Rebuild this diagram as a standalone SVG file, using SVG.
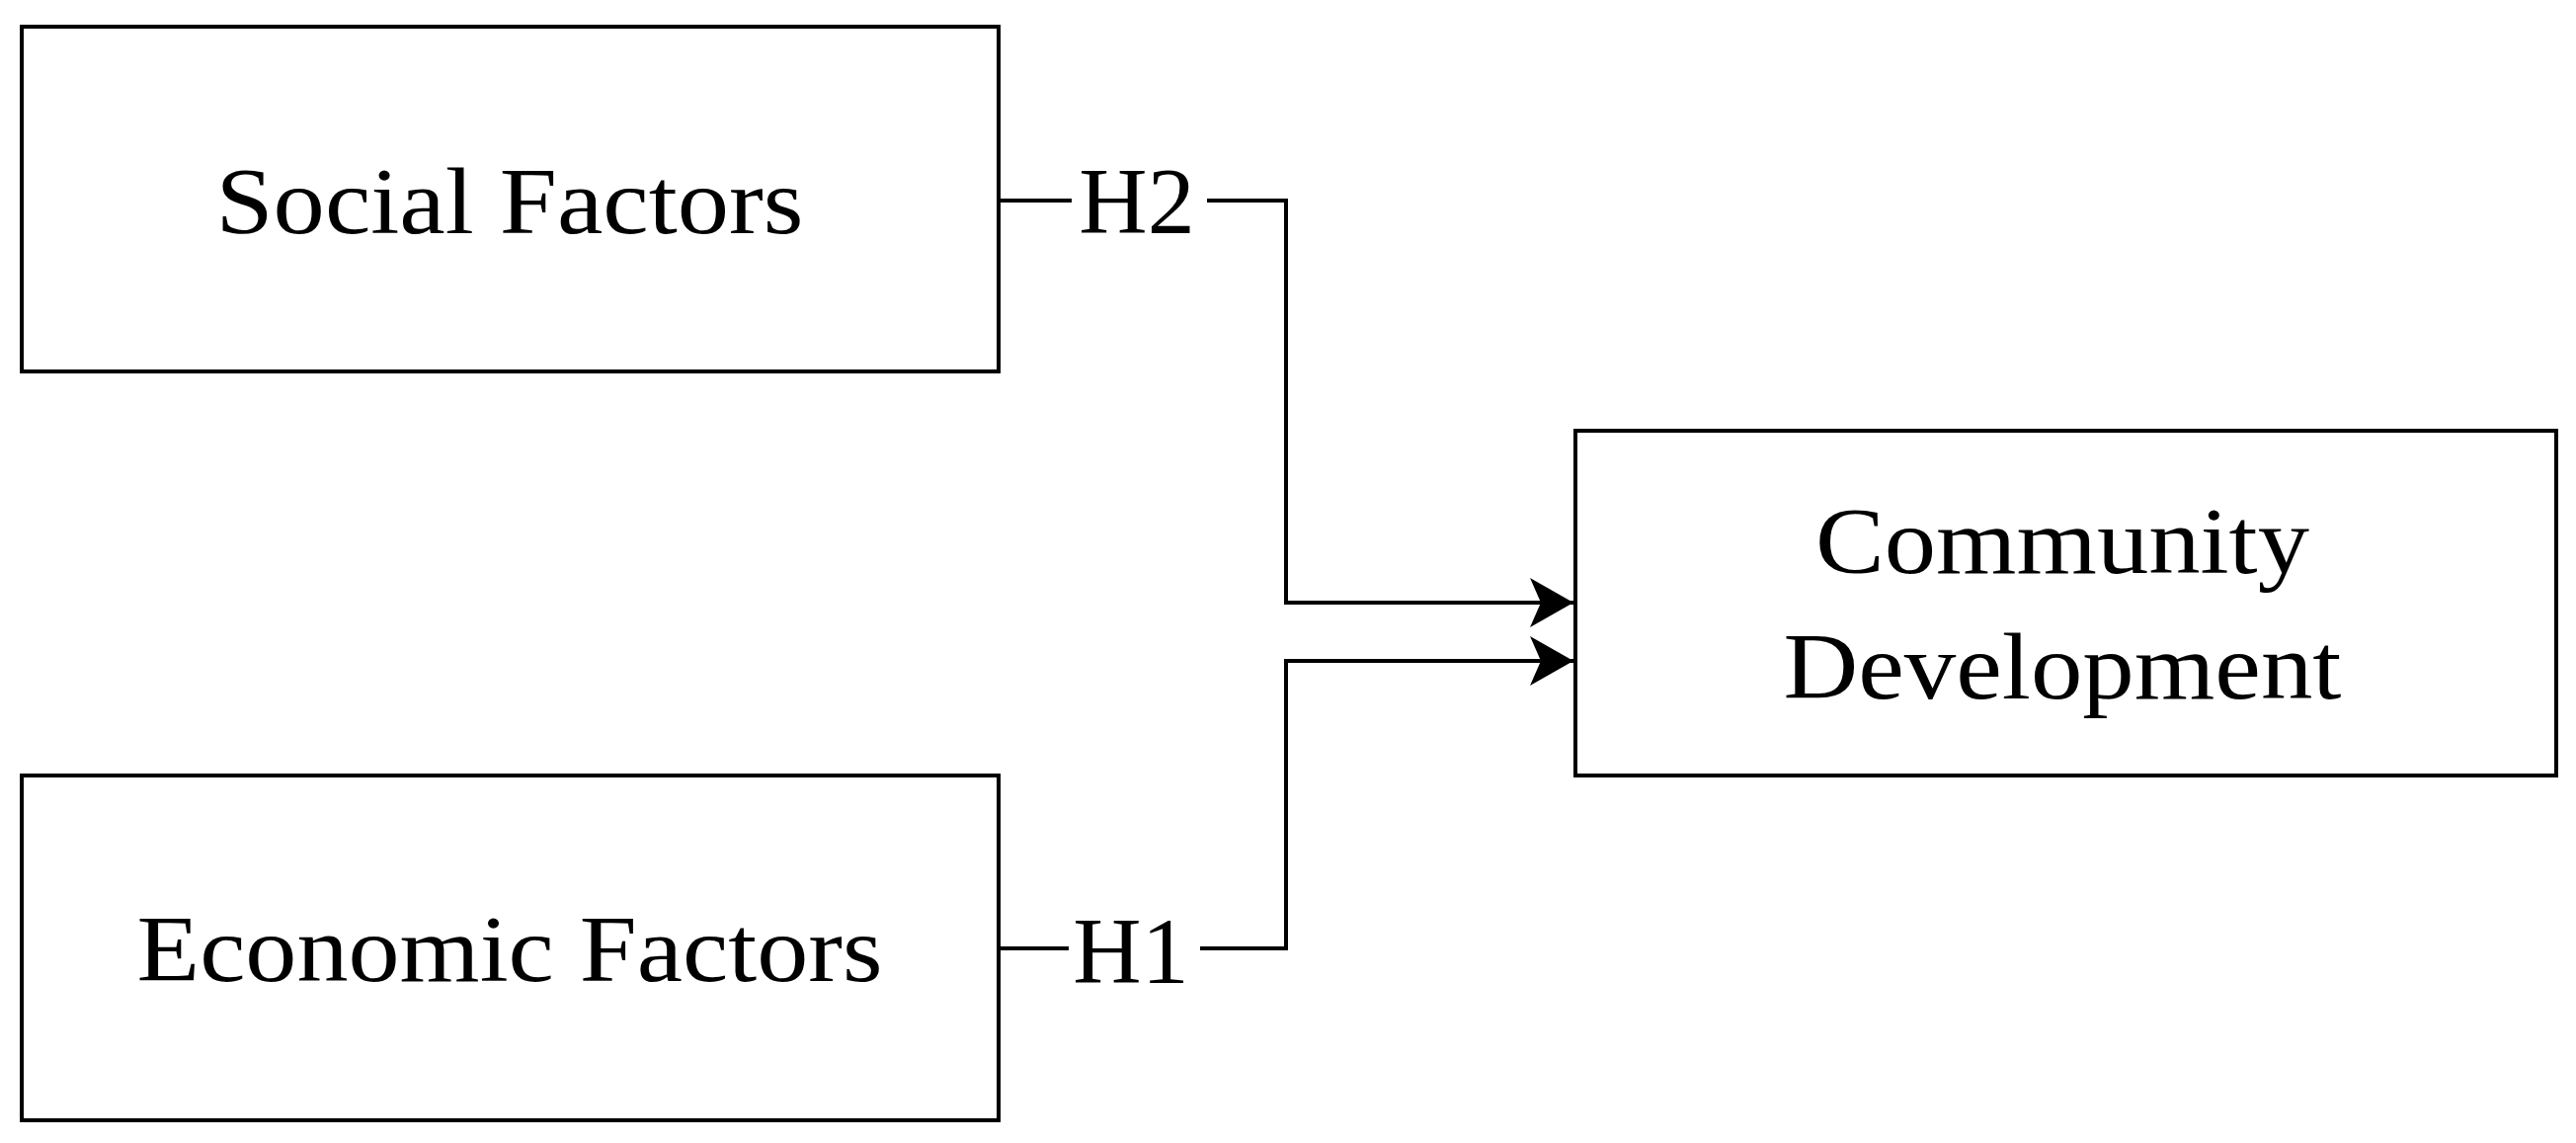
<svg xmlns="http://www.w3.org/2000/svg" width="2608" height="1157" viewBox="0 0 2608 1157">
<style>
.box{fill:#fff;stroke:#000;stroke-width:4}
.t{font-family:"Liberation Serif","Times New Roman",serif;font-size:96px;fill:#000;text-anchor:middle}
.c{fill:none;stroke:#000;stroke-width:4}
</style>
<defs><marker id="a" markerUnits="userSpaceOnUse" markerWidth="50" markerHeight="50" refX="44" refY="25" orient="auto"><path d="M0,0 L44,25 L0,50 L11,25 Z" fill="#000"/></marker></defs>
<rect width="2608" height="1157" fill="#fff"/>
<g id="social"><rect class="box" x="22" y="27" width="989" height="349"/><text class="t" x="516" y="236" textLength="595" lengthAdjust="spacingAndGlyphs">Social Factors</text></g>
<g id="economic"><rect class="box" x="22" y="785" width="989" height="349"/><text class="t" x="516" y="993" textLength="755" lengthAdjust="spacingAndGlyphs">Economic Factors</text></g>
<g id="community"><rect class="box" x="1595" y="436" width="993" height="349"/><text class="t" x="2088" y="580" textLength="500" lengthAdjust="spacingAndGlyphs">Community</text><text class="t" x="2088" y="707" textLength="565" lengthAdjust="spacingAndGlyphs">Development</text></g>
<g id="connectors">
<path class="c" d="M1011,203 H1085 M1222,203 H1302 V610 H1593" marker-end="url(#a)"/>
<path class="c" d="M1011,960 H1082 M1215,960 H1302 V669 H1593" marker-end="url(#a)"/>
<text class="t" x="1151" y="236">H2</text>
<text class="t" x="1145" y="995">H1</text>
</g>
</svg>
